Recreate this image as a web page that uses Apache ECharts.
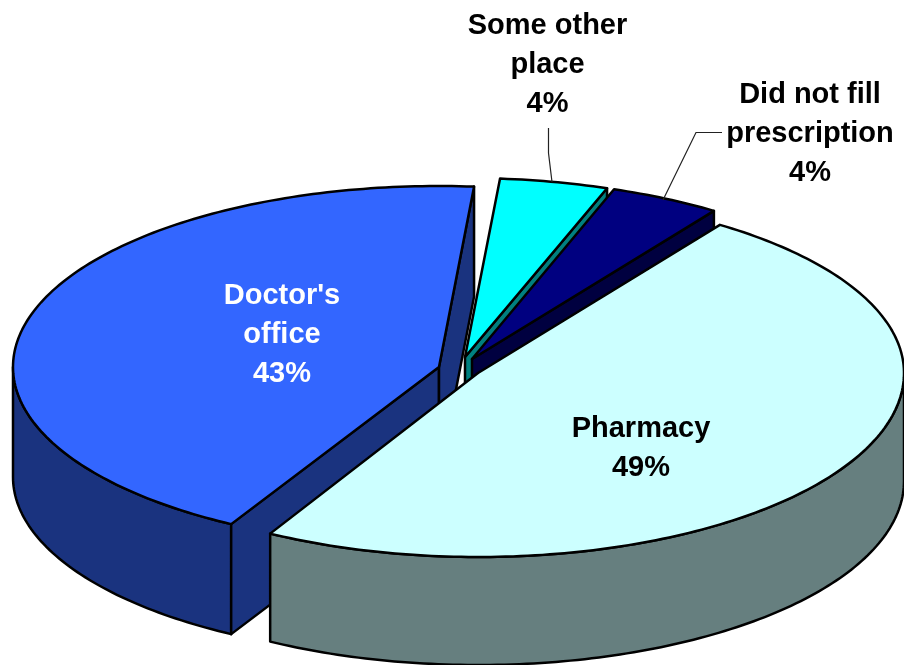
<!DOCTYPE html>
<html>
<head>
<meta charset="utf-8">
<style>html,body{margin:0;padding:0;background:#fff}#c{width:904px;height:665px}</style>
<script src="https://cdn.jsdelivr.net/npm/echarts@6/dist/echarts.min.js"></script>
</head>
<body>
<div id="c"></div>
<script>
// Data, clockwise from the first slice
var categories = ["Pharmacy", "Doctor's\noffice", "Some other\nplace", "Did not fill\nprescription"];
var values = [48.5, 43.2, 4.1, 4.2];
var percentLabels = ["49%", "43%", "4%", "4%"];

// Look of the slices
var topColors = ["#CCFFFF", "#3366FF", "#00FFFF", "#000080"];
var sideColors = ["#667F7F", "#1A337F", "#008080", "#000040"];
var textColors = ["#000000", "#FFFFFF", "#000000", "#000000"];
var apexes = [[478, 373], [439, 367], [465, 357], [472, 359]];
var depths = [108, 110, 110, 110];
var farRadii = [180, 181, 179, 180];
var nearRadii = [184, 180, 180, 180];
var labelCenters = [[641, 448], [282, 334.5], [547.5, 64.5], [810, 133.5]];
var leaders = [null, null, [[548.5, 128], [548.5, 153], [552, 182]], [[722, 132.5], [696, 132.5], [663, 200]]];
var drawOrder = [1, 2, 3, 0];
var START = 34.6, RX = 426;

var total = values.reduce(function (a, b) { return a + b; }, 0);
var starts = [], acc = START;
values.forEach(function (v) { starts.push(acc); acc += v / total * 360; });

function pt(k, deg, drop) {
  var t = deg * Math.PI / 180, c = Math.cos(t), apex = apexes[k];
  return [apex[0] + RX * Math.sin(t), apex[1] - (c > 0 ? farRadii[k] : nearRadii[k]) * c + (drop || 0)];
}
function poly(points, fill) {
  return { type: 'polygon', shape: { points: points },
    style: { fill: fill, stroke: '#000', lineWidth: 2.5, lineJoin: 'round' } };
}
function arcPts(k, a, b, drop) {
  var out = [], n = Math.max(2, Math.ceil(Math.abs(b - a)));
  for (var i = 0; i <= n; i++) out.push(pt(k, a + (b - a) * i / n, drop));
  return out;
}
function renderItem(params, api) {
  var k = api.value(1), v = api.value(0);
  var a0 = starts[k], a1 = a0 + v / total * 360;
  var apex = apexes[k], d = depths[k], kids = [];
  // outer wall, for the part of the arc that faces the viewer
  var ra = Math.max(a0, 90), rb = Math.min(a1, 270);
  if (rb > ra) {
    kids.push(poly(arcPts(k, ra, rb, 0).concat(arcPts(k, rb, ra, d)), sideColors[k]));
  }
  // cut faces that face the viewer
  function face(deg) {
    kids.push(poly([apex, pt(k, deg, 0), pt(k, deg, d), [apex[0], apex[1] + d]], sideColors[k]));
  }
  if (Math.sin(a0 * Math.PI / 180) < 0) face(a0);
  if (Math.sin(a1 * Math.PI / 180) > 0) face(a1);
  // top
  kids.push(poly([apex].concat(arcPts(k, a0, a1, 0)), topColors[k]));
  // leader
  if (leaders[k]) {
    kids.push({ type: 'polyline', shape: { points: leaders[k] },
      style: { fill: null, stroke: '#222', lineWidth: 1.2 } });
  }
  // label
  kids.push({ type: 'text', style: {
    text: categories[k] + '\n' + percentLabels[k],
    x: labelCenters[k][0], y: labelCenters[k][1],
    align: 'center', verticalAlign: 'middle',
    font: 'bold 29px "Liberation Sans", Arial, sans-serif',
    lineHeight: 39, fill: textColors[k] } });
  return { type: 'group', children: kids };
}
var chart = echarts.init(document.getElementById('c'), null, { renderer: 'canvas' });
chart.setOption({
  animation: false,
  backgroundColor: '#fff',
  series: [{
    type: 'custom',
    coordinateSystem: 'none',
    renderItem: renderItem,
    silent: true,
    data: drawOrder.map(function (k) { return { name: categories[k], value: [values[k], k] }; })
  }]
});
</script>
</body>
</html>
